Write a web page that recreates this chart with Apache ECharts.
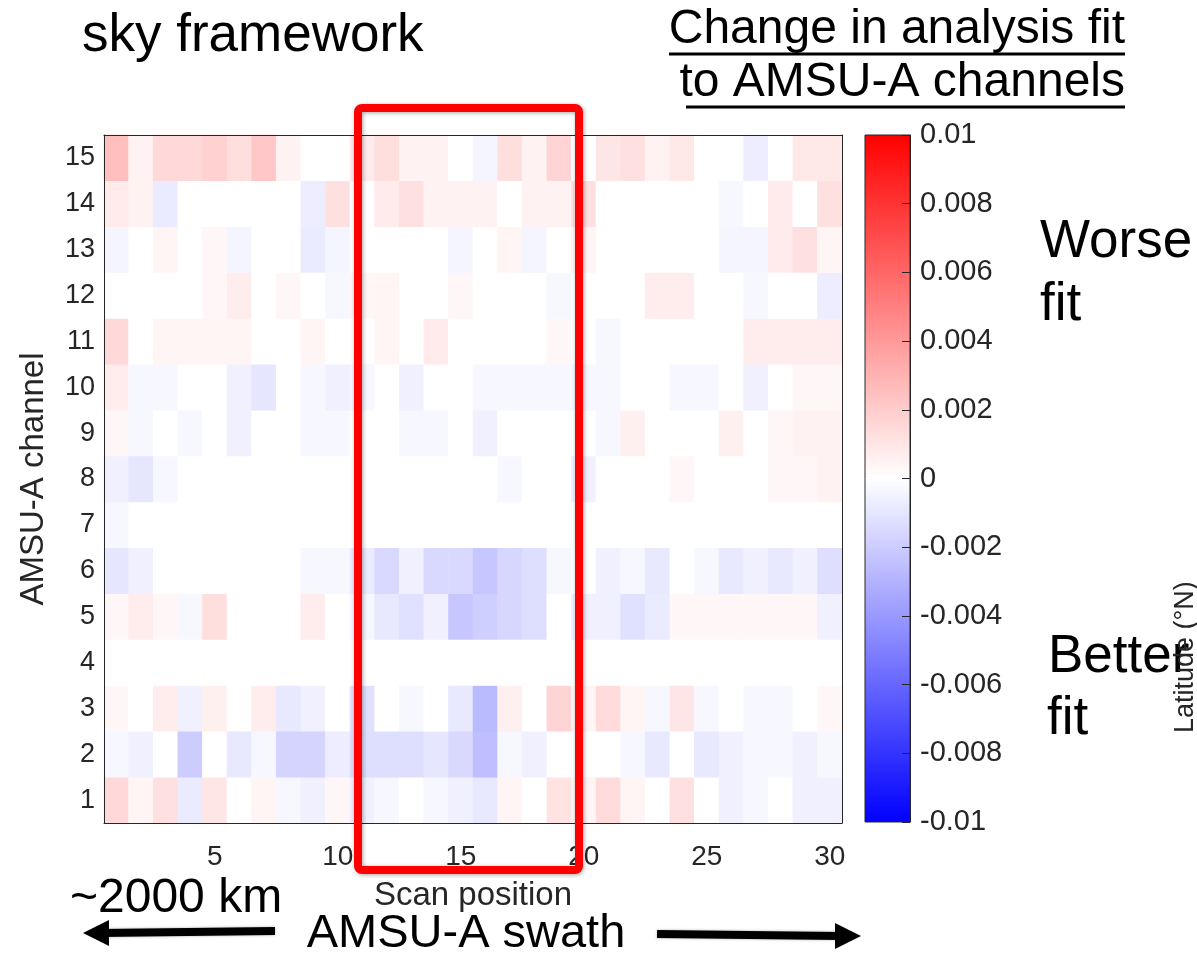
<!DOCTYPE html>
<html>
<head>
<meta charset="utf-8">
<script src="https://cdn.jsdelivr.net/npm/echarts@6/dist/echarts.min.js"></script>
<style>html,body{margin:0;padding:0;background:#fff}#chart{width:1197px;height:955px}</style>
</head>
<body>
<div id="chart"></div>
<script>
// Categories
const scanPositions = ['1','2','3','4','5','6','7','8','9','10','11','12','13','14','15','16','17','18','19','20','21','22','23','24','25','26','27','28','29','30'];
const channels = ['1','2','3','4','5','6','7','8','9','10','11','12','13','14','15'];
const xTickLabels = ['5','10','15','20','25','30'];
const colorbarMin = -0.01, colorbarMax = 0.01, colorbarStep = 0.002;

// Change in analysis fit, per channel, scan positions 1..30
const ch1  = [0.0015,0.0004,0.0012,-0.0008,0.0010,0,0.0004,-0.0003,-0.0006,0.0003,-0.0006,-0.0003,0,-0.0003,-0.0006,-0.0009,0.0004,0,0.0011,0.0004,0.0014,0.0004,0,0.0012,0,-0.0006,-0.0003,0,-0.0006,-0.0006];
const ch2  = [-0.0003,-0.0006,0,-0.0020,0,-0.0009,-0.0003,-0.0017,-0.0017,-0.0007,-0.0013,-0.0013,-0.0013,-0.0010,-0.0015,-0.0025,-0.0003,-0.0006,0,0,0,-0.0003,-0.0009,0,-0.0009,-0.0006,-0.0003,-0.0003,-0.0006,-0.0003];
const ch3  = [0.0003,0,0.0007,-0.0006,0.0006,0,0.0007,-0.0009,-0.0006,0,-0.0012,0,-0.0003,0,-0.0009,-0.0027,0.0006,0,0.0017,0.0004,0.0014,0.0004,-0.0003,0.0010,-0.0003,0,-0.0003,-0.0003,0,0.0003];
const ch4  = [0,0,0,0,0,0,0,0,0,0,0,0,0,0,0,0,0,0,0,0,0,0,0,0,0,0,0,0,0,0];
const ch5  = [0.0003,0.0007,0.0003,-0.0003,0.0013,0,0,0,0.0007,0,-0.0003,-0.0009,-0.0012,-0.0006,-0.0022,-0.0019,-0.0016,-0.0013,0,-0.0006,-0.0006,-0.0012,-0.0008,0.0003,0.0003,0.0003,0.0003,0.0003,0.0003,-0.0006];
const ch6  = [-0.0010,-0.0006,0,0,0,0,0,0,-0.0003,-0.0003,-0.0008,-0.0015,-0.0006,-0.0015,-0.0015,-0.0022,-0.0016,-0.0013,-0.0003,0,-0.0006,-0.0003,-0.0009,0,-0.0003,-0.0009,-0.0006,-0.0009,-0.0006,-0.0013];
const ch7  = [-0.0003,0,0,0,0,0,0,0,0,0,0,0,0,0,0,0,0,0,0,0,0,0,0,0,0,0,0,0,0,0];
const ch8  = [-0.0006,-0.0010,-0.0003,0,0,0,0,0,0,0,0,0,0,0,0,0,-0.0003,0,0,-0.0006,0,0,0,0.0003,0,0,0,0.0003,0.0003,0.0005];
const ch9  = [0.0003,-0.0003,0,-0.0003,0,-0.0006,0,0,-0.0003,-0.0003,0,0,-0.0003,-0.0003,0,-0.0006,0,0,0,0,-0.0003,0.0006,0,0,0,0.0006,0,0.0003,0.0005,0.0005];
const ch10 = [0.0007,-0.0003,-0.0003,0,0,-0.0006,-0.0010,0,-0.0003,-0.0006,-0.0003,0,-0.0006,0,0,-0.0003,-0.0003,-0.0003,-0.0003,-0.0003,-0.0003,0,0,-0.0003,-0.0003,0,-0.0006,0,0.0003,0.0003];
const ch11 = [0.0015,0,0.0004,0.0004,0.0004,0.0004,0,0,0.0004,0,0,0.0004,0,0.0008,0,0,0,0,0.0003,0,-0.0003,0,0,0,0,0,0.0007,0.0007,0.0007,0.0007];
const ch12 = [0,0,0,0,0.0003,0.0007,0,0.0003,0,-0.0003,0.0003,0.0004,0,0,0.0003,0,0,0,-0.0003,0,0,0,0.0007,0.0007,0,0,-0.0003,0,0,-0.0007];
const ch13 = [-0.0004,0,0.0004,0,0.0003,-0.0004,0,0,-0.0008,-0.0004,0,0,0,0,-0.0004,0,0.0004,-0.0004,0,0.0004,0,0,0,0,0,-0.0004,-0.0004,0.0008,0.0012,0.0004];
const ch14 = [0.0008,0.0005,-0.0008,0,0,0,0,0,-0.0007,0.0012,0,0.0008,0.0012,0.0005,0.0005,0.0005,0,0.0005,0.0005,0.0012,0,0,0,0,0,-0.0003,0,0.0008,0,0.0012];
const ch15 = [0.0025,0.0005,0.0015,0.0015,0.0018,0.0013,0.0022,0.0005,0,0,0.0008,0.0013,0.0005,0.0005,0,-0.0004,0.0013,0.0005,0.0017,0,0.0010,0.0012,0.0005,0.0009,0,0,-0.0007,0,0.0009,0.0009];

const channelValues = [ch1,ch2,ch3,ch4,ch5,ch6,ch7,ch8,ch9,ch10,ch11,ch12,ch13,ch14,ch15];

const heatData = [];
channelValues.forEach(function (row, ci) {
  row.forEach(function (v, si) { heatData.push([si, ci, v]); });
});

const FONT = '"Liberation Sans", Arial, Helvetica, sans-serif';
const AX = '#262626';
const xTickFn = function (idx, val) { return xTickLabels.indexOf(String(val)) >= 0; };

const chart = echarts.init(document.getElementById('chart'), null, {renderer: 'canvas'});

const G = {left: 104, top: 135, width: 738, height: 688};
const CB = {left: 865, top: 135, width: 45, height: 687};

chart.setOption({
  animation: false,
  backgroundColor: '#ffffff',
  grid: [
    {left: G.left, top: G.top, width: G.width, height: G.height},
    {left: CB.left, top: CB.top, width: CB.width, height: CB.height}
  ],
  xAxis: [
    {
      type: 'category', gridIndex: 0, data: scanPositions, position: 'bottom', z: 5,
      axisLine: {lineStyle: {color: AX, width: 1}},
      axisTick: {inside: true, length: 8, alignWithLabel: true, interval: xTickFn, lineStyle: {color: AX}},
      axisLabel: {interval: xTickFn, fontSize: 28, color: AX, fontFamily: FONT, margin: 20},
      splitLine: {show: false},
      name: 'Scan position', nameLocation: 'middle', nameGap: 56,
      nameTextStyle: {fontSize: 33, color: AX, fontFamily: FONT}
    },
    {
      type: 'category', gridIndex: 0, data: scanPositions, position: 'top', z: 5,
      axisLine: {lineStyle: {color: AX, width: 1}},
      axisTick: {inside: true, length: 8, alignWithLabel: true, interval: xTickFn, lineStyle: {color: AX}},
      axisLabel: {show: false}, splitLine: {show: false}
    },
    {type: 'value', gridIndex: 1, min: 0, max: 1, show: false}
  ],
  yAxis: [
    {
      type: 'category', gridIndex: 0, data: channels, position: 'left', z: 5,
      axisLine: {lineStyle: {color: AX, width: 1}},
      axisTick: {inside: true, length: 8, alignWithLabel: true, interval: 0, lineStyle: {color: AX}},
      axisLabel: {interval: 0, fontSize: 27, color: AX, fontFamily: FONT, margin: 9},
      splitLine: {show: false},
      name: 'AMSU-A channel', nameLocation: 'middle', nameGap: 54, nameRotate: 90,
      nameTextStyle: {fontSize: 33, color: AX, fontFamily: FONT}
    },
    {
      type: 'category', gridIndex: 0, data: channels, position: 'right', z: 5,
      axisLine: {lineStyle: {color: AX, width: 1}},
      axisTick: {inside: true, length: 8, alignWithLabel: true, interval: 0, lineStyle: {color: AX}},
      axisLabel: {show: false}, splitLine: {show: false}
    },
    {
      type: 'value', gridIndex: 1, position: 'right', min: colorbarMin, max: colorbarMax, interval: colorbarStep, z: 5,
      axisLine: {show: true, onZero: false, lineStyle: {color: AX, width: 1}},
      axisTick: {show: true, inside: true, length: 8, lineStyle: {color: AX}},
      axisLabel: {fontSize: 29, color: AX, fontFamily: FONT, margin: 10},
      splitLine: {show: false}
    }
  ],
  visualMap: {
    show: false, type: 'continuous', min: colorbarMin, max: colorbarMax, seriesIndex: 0,
    inRange: {color: ['#0000ff', '#ffffff', '#ff0000']}
  },
  series: [{
    type: 'heatmap', xAxisIndex: 0, yAxisIndex: 0, data: heatData,
    itemStyle: {borderWidth: 0},
    emphasis: {disabled: true}, progressive: 0
  }],
  graphic: [
    // colorbar
    {type: 'rect', z: 1, silent: true,
     shape: {x: CB.left, y: CB.top, width: CB.width, height: CB.height},
     style: {fill: {type: 'linear', x: 0, y: 0, x2: 0, y2: 1, colorStops: [
       {offset: 0, color: '#ff0000'}, {offset: 0.5, color: '#ffffff'}, {offset: 1, color: '#0000ff'}]},
       stroke: AX, lineWidth: 1}},
    // highlight box
    {type: 'rect', z: 100, silent: true,
     shape: {x: 358, y: 108, width: 221, height: 762, r: 4},
     style: {fill: 'none', stroke: '#ff0000', lineWidth: 8, shadowBlur: 4, shadowColor: 'rgba(0,0,0,0.35)', shadowOffsetX: 1, shadowOffsetY: 1}},
    // titles
    {type: 'text', z: 50, style: {text: 'sky framework', x: 82, y: 36, font: '53px ' + FONT, fill: '#000', align: 'left', verticalAlign: 'middle'}},
    {type: 'text', z: 50, style: {text: 'Change in analysis fit', x: 1125, y: 30, font: '48px ' + FONT, fill: '#000', align: 'right', verticalAlign: 'middle'}},
    {type: 'line', z: 50, shape: {x1: 669, y1: 54, x2: 1125, y2: 54}, style: {stroke: '#000', lineWidth: 3}},
    {type: 'text', z: 50, style: {text: 'to AMSU-A channels', x: 1125, y: 83, font: '48px ' + FONT, fill: '#000', align: 'right', verticalAlign: 'middle'}},
    {type: 'line', z: 50, shape: {x1: 686, y1: 107, x2: 1125, y2: 107}, style: {stroke: '#000', lineWidth: 3}},
    // side annotations
    {type: 'text', z: 50, style: {text: 'Worse', x: 1040, y: 242, font: '53px ' + FONT, fill: '#000', align: 'left', verticalAlign: 'middle'}},
    {type: 'text', z: 50, style: {text: 'fit', x: 1040, y: 305, font: '53px ' + FONT, fill: '#000', align: 'left', verticalAlign: 'middle'}},
    {type: 'text', z: 50, style: {text: 'Better', x: 1048, y: 657, font: '53px ' + FONT, fill: '#000', align: 'left', verticalAlign: 'middle'}},
    {type: 'text', z: 50, style: {text: 'fit', x: 1047, y: 719, font: '53px ' + FONT, fill: '#000', align: 'left', verticalAlign: 'middle'}},
    {type: 'text', z: 50, x: 1186, y: 733, rotation: Math.PI / 2,
     style: {text: 'Latitude (°N)', x: 0, y: 0, font: '27px ' + FONT, fill: AX, align: 'left', verticalAlign: 'middle'}},
    // bottom annotations
    {type: 'text', z: 50, style: {text: '~2000 km', x: 70, y: 899, font: '48px ' + FONT, fill: '#000', align: 'left', verticalAlign: 'middle'}},
    {type: 'text', z: 50, style: {text: 'AMSU-A swath', x: 466, y: 934, font: '47px ' + FONT, fill: '#000', align: 'center', verticalAlign: 'middle'}},
    {type: 'line', z: 50, shape: {x1: 275, y1: 931, x2: 100, y2: 933}, style: {stroke: '#000', lineWidth: 8, shadowBlur: 3, shadowColor: 'rgba(0,0,0,0.3)'}},
    {type: 'polygon', z: 50, shape: {points: [[83, 933], [109, 920], [109, 946]]}, style: {fill: '#000'}},
    {type: 'line', z: 50, shape: {x1: 657, y1: 934, x2: 840, y2: 936}, style: {stroke: '#000', lineWidth: 8, shadowBlur: 3, shadowColor: 'rgba(0,0,0,0.3)'}},
    {type: 'polygon', z: 50, shape: {points: [[861, 936], [835, 923], [835, 949]]}, style: {fill: '#000'}}
  ]
});
</script>
</body>
</html>
